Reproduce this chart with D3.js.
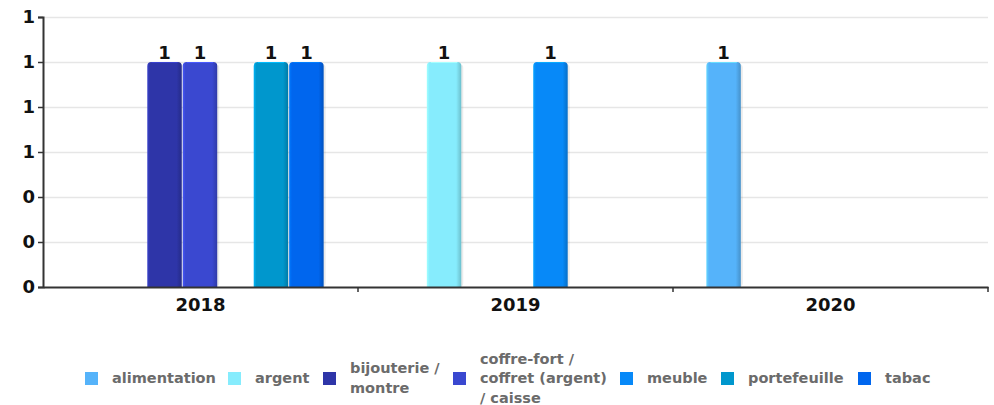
<!DOCTYPE html>
<html><head><meta charset="utf-8">
<script src="https://cdn.jsdelivr.net/npm/d3@7"></script>
<style>body{margin:0;background:#fff}svg{display:block}</style>
</head><body><svg id="c" width="994" height="405"></svg>
<script>
const categories = ["2018", "2019", "2020"];
const seriesNames = ["alimentation", "argent", "bijouterie / montre", "coffre-fort / coffret (argent) / caisse", "meuble", "portefeuille", "tabac"];
const legendLines = [["alimentation"], ["argent"], ["bijouterie /", "montre"], ["coffre-fort /", "coffret (argent)", "/ caisse"], ["meuble"], ["portefeuille"], ["tabac"]];
const colors = ["#55b3fa", "#86ecfd", "#2e35a8", "#3a48d0", "#0789f8", "#0097cd", "#0066ee"];
// values[series][category], null = no bar
const values = [
  [null, null, 1],
  [null, 1, null],
  [1, null, null],
  [1, null, null],
  [null, 1, null],
  [1, null, null],
  [1, null, null]
];
const yTicks = [0, 0.2, 0.4, 0.6, 0.8, 1.0, 1.2];

const svg = d3.select("#c");
const L = 43, R = 988, T = 17, B = 287;
const x0 = d3.scaleBand().domain(categories).range([L, R]).paddingInner(0).paddingOuter(0);
const x1 = d3.scaleBand().domain(seriesNames).range([0, x0.bandwidth()]).paddingInner(0).paddingOuter(0.94);
const y = d3.scaleLinear().domain([0, 1.2]).range([B, T]);
const fmt = d3.format(".0f");
const FONT = "DejaVu Sans";

const defs = svg.append("defs");
colors.forEach((c, i) => {
  const g = defs.append("linearGradient").attr("id", "g" + i).attr("x1", 0).attr("x2", 1).attr("y1", 0).attr("y2", 0);
  const base = d3.color(c);
  g.append("stop").attr("offset", "0%").attr("stop-color", base.brighter(0.5));
  g.append("stop").attr("offset", "8%").attr("stop-color", base);
  g.append("stop").attr("offset", "85%").attr("stop-color", base);
  g.append("stop").attr("offset", "100%").attr("stop-color", base.darker(0.6));
});

// grid
svg.append("g").selectAll("line").data(yTicks.filter(d => d > 0)).join("line")
  .attr("x1", L).attr("x2", R).attr("y1", d => Math.round(y(d)) + 0.5).attr("y2", d => Math.round(y(d)) + 0.5)
  .attr("stroke", "#e6e6e6").attr("stroke-width", 1.5);

// y axis
const ya = svg.append("g").attr("transform", `translate(${L},0)`)
  .call(d3.axisLeft(y).tickValues(yTicks).tickFormat(fmt).tickSize(5).tickPadding(3));
ya.select(".domain").attr("stroke", "#333").attr("stroke-width", 2);
ya.selectAll(".tick line").attr("stroke", "#333").attr("stroke-width", 1.5);
ya.selectAll("text").attr("font-family", FONT).attr("font-weight", "bold").attr("font-size", 18).attr("fill", "#111");

// bars
const data = [];
seriesNames.forEach((s, si) => categories.forEach((c, ci) => {
  if (values[si][ci] != null) data.push({ s, si, c, v: values[si][ci] });
}));
const bw = x1.bandwidth() - 1;
const bars = svg.append("g");
data.forEach(d => {
  const bx = x0(d.c) + x1(d.s);
  const by = y(d.v), bh = y(0) - y(d.v);
  const r = 4;
  bars.append("rect").attr("x", bx + 2).attr("y", by + 2).attr("width", bw).attr("height", bh - 2)
    .attr("fill", "#000").attr("opacity", 0.08).attr("rx", r);
  const p = `M${bx},${by + bh} V${by + r} Q${bx},${by} ${bx + r},${by} H${bx + bw - r} Q${bx + bw},${by} ${bx + bw},${by + r} V${by + bh} Z`;
  bars.append("path").attr("d", p).attr("fill", `url(#g${d.si})`);
  bars.append("line").attr("x1", bx + r).attr("x2", bx + bw - r).attr("y1", by + 0.5).attr("y2", by + 0.5)
    .attr("stroke", d3.color(colors[d.si]).brighter(0.6)).attr("stroke-width", 1);
  bars.append("text").attr("x", bx + bw / 2).attr("y", by - 3).attr("text-anchor", "middle")
    .attr("font-family", FONT).attr("font-weight", "bold").attr("font-size", 18).attr("fill", "#111")
    .text(fmt(d.v));
});

// x axis
const xa = svg.append("g").attr("transform", `translate(0,${B})`)
  .call(d3.axisBottom(x0).tickSize(0).tickPadding(11));
xa.select(".domain").attr("stroke", "#333").attr("stroke-width", 2);
xa.selectAll("text").attr("font-family", FONT).attr("font-weight", "bold").attr("font-size", 18).attr("fill", "#111");
svg.append("g").selectAll("line").data(categories).join("line")
  .attr("x1", d => x0(d) + x0.bandwidth()).attr("x2", d => x0(d) + x0.bandwidth())
  .attr("y1", B).attr("y2", B + 5).attr("stroke", "#333").attr("stroke-width", 1.5);

// legend
const legX = [85, 228, 323, 453, 620, 721, 858];
const lg = svg.append("g");
legendLines.forEach((lines, i) => {
  lg.append("rect").attr("x", legX[i]).attr("y", 372).attr("width", 13).attr("height", 13).attr("fill", colors[i]);
  const n = lines.length, lh = 19.5;
  lines.forEach((ln, k) => {
    lg.append("text").attr("font-family", FONT).attr("font-weight", "bold").attr("font-size", 14.5).attr("fill", "#6b6b6b")
      .attr("x", legX[i] + 27).attr("y", 383 + (k - (n - 1) / 2) * lh).text(ln);
  });
});
</script></body></html>
